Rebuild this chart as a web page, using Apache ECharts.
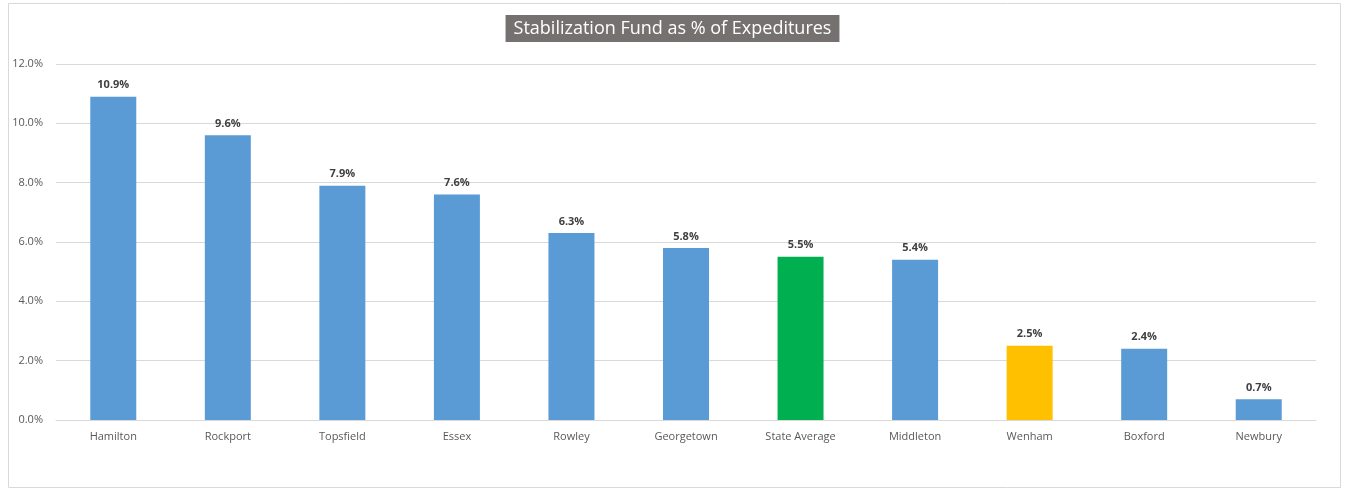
<!DOCTYPE html>
<html><head><meta charset="utf-8">
<script src="https://cdn.jsdelivr.net/npm/echarts@6/dist/echarts.min.js"></script>
<style>html,body{margin:0;padding:0;background:#fff}#c{width:1345px;height:490px}</style>
</head><body><div id="c"></div>
<script>
const categories = ["Hamilton","Rockport","Topsfield","Essex","Rowley","Georgetown","State Average","Middleton","Wenham","Boxford","Newbury"];
const values = [10.9, 9.6, 7.9, 7.6, 6.3, 5.8, 5.5, 5.4, 2.5, 2.4, 0.7];
const barColors = ["#5B9BD5","#5B9BD5","#5B9BD5","#5B9BD5","#5B9BD5","#5B9BD5","#00B050","#5B9BD5","#FFC000","#5B9BD5","#5B9BD5"];
const titleText = "Stabilization Fund as % of Expeditures";

const chart = echarts.init(document.getElementById('c'));
chart.setOption({
  animation: false,
  graphic: [{
    type: 'rect', shape: {x: 8.5, y: 3.5, width: 1332, height: 484},
    style: {fill: 'none', stroke: '#d9d9d9', lineWidth: 1}, z: -1
  }],
  title: {
    text: titleText, left: 'center', top: 15,
    backgroundColor: '#767171', padding: [5, 8, 4, 8],
    textStyle: {color: '#fff', fontFamily: 'Open Sans', fontWeight: 'normal', fontSize: 18}
  },
  grid: {left: 56, right: 29, top: 64, bottom: 70, containLabel: false},
  xAxis: {
    type: 'category', data: categories,
    axisLine: {lineStyle: {color: '#d9d9d9'}},
    axisTick: {show: false},
    axisLabel: {color: '#595959', fontFamily: 'Open Sans', fontSize: 11, margin: 11}
  },
  yAxis: {
    type: 'value', min: 0, max: 12, interval: 2,
    axisLine: {show: false}, axisTick: {show: false},
    splitLine: {lineStyle: {color: '#d9d9d9'}},
    axisLabel: {color: '#595959', fontFamily: 'Open Sans', fontSize: 11, margin: 13,
      formatter: v => v.toFixed(1) + '%'}
  },
  series: [{
    type: 'bar', barWidth: 46,
    data: values.map((v, i) => ({value: v, itemStyle: {color: barColors[i]}})),
    label: {show: true, position: 'top', distance: 6, color: '#404040', fontFamily: 'Open Sans',
      fontWeight: 'bold', fontSize: 11, formatter: p => p.value.toFixed(1) + '%'}
  }]
});
</script></body></html>
